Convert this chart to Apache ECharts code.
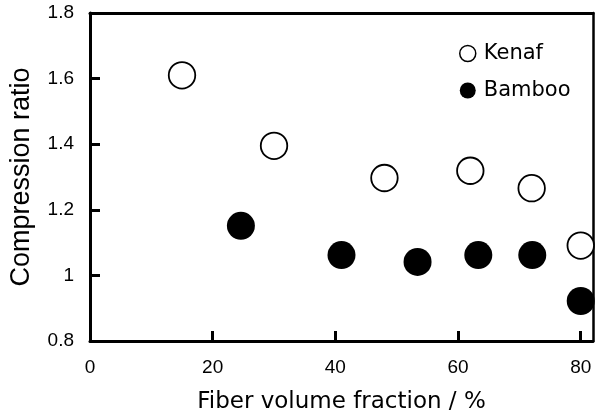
<!DOCTYPE html>
<html>
<head>
<meta charset="utf-8">
<script src="https://cdn.jsdelivr.net/npm/echarts@6/dist/echarts.min.js"></script>
<style>
  html, body { margin: 0; padding: 0; background: #fff; }
  #chart { width: 595px; height: 415px; }
</style>
</head>
<body>
<div id="chart"></div>
<script>
  // values
  const kenafX = [15, 30, 48, 62, 72, 80]
  const kenafY = [1.61, 1.395, 1.297, 1.319, 1.266, 1.091]
  const bambooX = [24.6, 41, 53.4, 63.3, 72.1, 80]
  const bambooY = [1.151, 1.062, 1.041, 1.062, 1.062, 0.922]
  const xTicks = [0, 20, 40, 60, 80]
  const yTicks = [0.8, 1, 1.2, 1.4, 1.6, 1.8]

  const pair = (xs, ys) => xs.map((x, i) => [x, ys[i]])

  const chart = echarts.init(document.getElementById('chart'))

  const wideFont = '"DejaVu Sans", sans-serif'
  const latinFont = '"Liberation Sans", Arial, sans-serif'
  const black = '#000'

  // top and right edges of the frame (no ticks, no labels)
  const frameAxis = (width) => ({
    axisLine: { show: true, onZero: false, lineStyle: { color: black, width: width } },
    axisTick: { show: false },
    axisLabel: { show: false },
    splitLine: { show: false }
  })

  const option = {
    backgroundColor: '#fff',
    animation: false,
    grid: {
      left: 90, top: 13, right: 2, bottom: 74,
      outerBoundsMode: 'none'
    },
    legend: {
      orient: 'vertical',
      left: 454, top: 38,
      itemWidth: 16, itemHeight: 16,
      itemGap: 16,
      textStyle: { fontFamily: wideFont, fontSize: 21, color: black, padding: [0, 0, 0, 3] },
      data: [
        { name: 'Kenaf', icon: 'circle', itemStyle: { color: '#fff', borderColor: black, borderWidth: 1.5, opacity: 1 } },
        { name: 'Bamboo', icon: 'circle', itemStyle: { color: black, borderWidth: 0, opacity: 1 } }
      ]
    },
    xAxis: [{
      type: 'value',
      min: 0, max: 82, interval: 20,
      name: 'Fiber volume fraction / %',
      nameLocation: 'middle', nameGap: 50,
      nameTextStyle: { fontFamily: wideFont, fontSize: 23, color: black },
      axisLine: { show: true, onZero: false, lineStyle: { color: black, width: 3 } },
      axisTick: { show: true, inside: true, length: 10, lineStyle: { color: black, width: 3 } },
      axisLabel: {
        fontFamily: latinFont, fontSize: 19, color: black, margin: 17,
        showMaxLabel: false,
        formatter: v => xTicks.includes(v) ? String(v) : ''
      },
      splitLine: { show: false }
    }, Object.assign({ type: 'value', position: 'top', min: 0, max: 82 }, frameAxis(3))],
    yAxis: [{
      type: 'value',
      min: 0.8, max: 1.8, interval: 0.2,
      name: 'Compression ratio',
      nameLocation: 'middle', nameGap: 55,
      nameTextStyle: { fontFamily: latinFont, fontSize: 27, color: black },
      axisLine: { show: true, onZero: false, lineStyle: { color: black, width: 3 } },
      axisTick: { show: true, inside: true, length: 10, lineStyle: { color: black, width: 3 } },
      axisLabel: {
        fontFamily: latinFont, fontSize: 19, color: black, margin: 16,
        formatter: v => {
          const t = yTicks.find(y => Math.abs(y - v) < 1e-6)
          return t === undefined ? '' : String(t)
        }
      },
      splitLine: { show: false }
    }, Object.assign({ type: 'value', position: 'right', min: 0.8, max: 1.8 }, frameAxis(2.5))],
    series: [
      {
        name: 'Kenaf',
        type: 'scatter',
        symbol: 'circle',
        symbolSize: 26.5,
        clip: true,
        itemStyle: { color: '#fff', borderColor: black, borderWidth: 1.8, opacity: 1 },
        data: pair(kenafX, kenafY)
      },
      {
        name: 'Bamboo',
        type: 'scatter',
        symbol: 'circle',
        symbolSize: 28,
        clip: true,
        itemStyle: { color: black, opacity: 1 },
        data: pair(bambooX, bambooY)
      }
    ]
  }

  chart.setOption(option)
</script>
</body>
</html>
